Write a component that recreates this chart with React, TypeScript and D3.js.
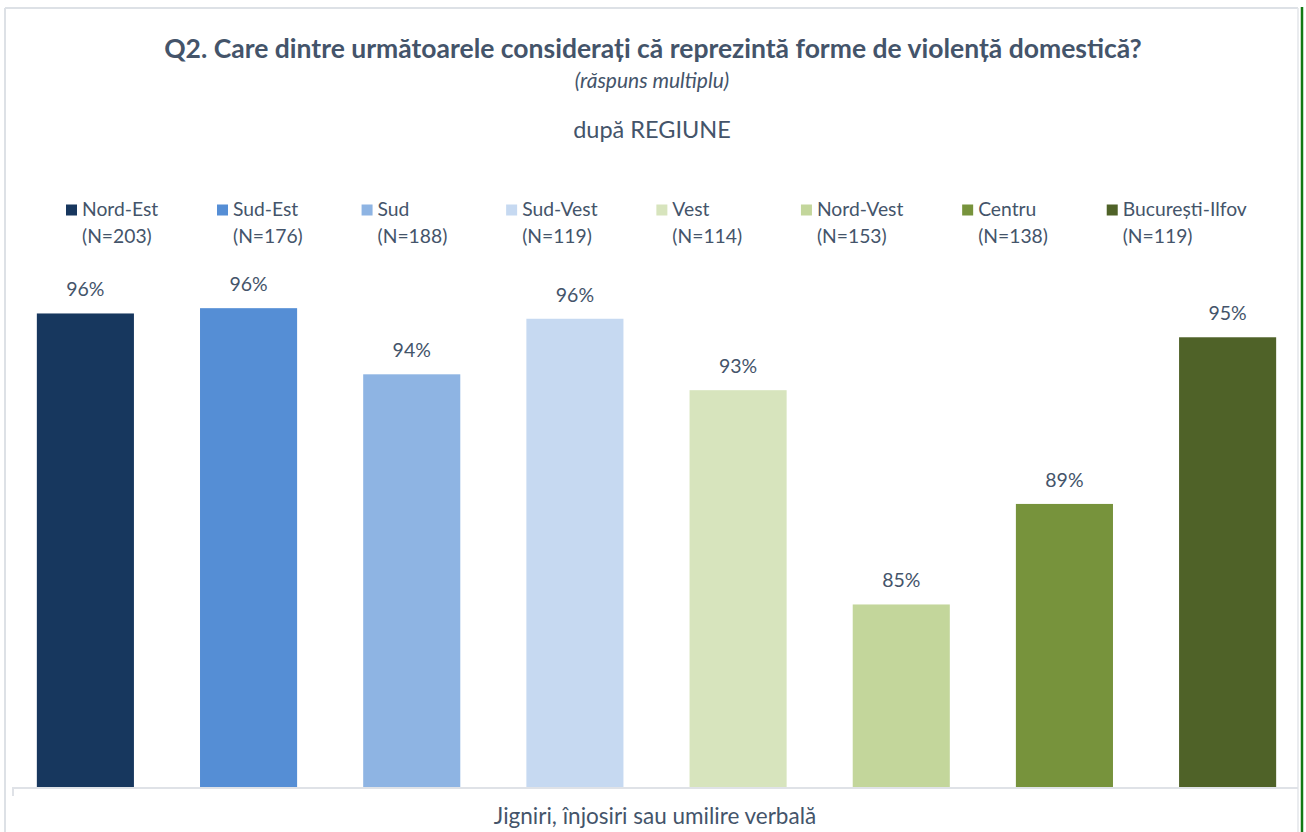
import React, { useEffect, useRef } from "react";
import * as d3 from "d3";

const regions = ["Nord-Est", "Sud-Est", "Sud", "Sud-Vest", "Vest", "Nord-Vest", "Centru", "București-Ilfov"];
const sampleSizes = ["(N=203)", "(N=176)", "(N=188)", "(N=119)", "(N=114)", "(N=153)", "(N=138)", "(N=119)"];
const values = [95.9, 96.1, 93.6, 95.7, 93.0, 84.9, 88.7, 95.0];
const colors = ["#17375E", "#558ED5", "#8EB4E3", "#C6D9F1", "#D7E4BD", "#C3D69B", "#77933C", "#4F6228"];
const categoryLabel = "Jigniri, înjosiri sau umilire verbală";
const titleText = "Q2. Care dintre următoarele considerați că reprezintă forme de violență domestică?";
const subtitleText = "(răspuns multiplu)";
const groupText = "după REGIUNE";

const W = 1306;
const H = 832;
const FONT = "Lato, 'Open Sans', sans-serif";
const TEXT = "#44546A";

export default function App() {
  const ref = useRef<SVGSVGElement>(null);

  useEffect(() => {
    document.body.style.margin = "0";
    document.body.style.overflow = "hidden";
    const svg = d3.select(ref.current);
    svg.selectAll("*").remove();

    svg.append("rect").attr("width", W).attr("height", H).attr("fill", "#fff");

    // frame
    svg.append("line").attr("x1", 5).attr("x2", 5).attr("y1", 8).attr("y2", H).attr("stroke", "#DDE1E6").attr("stroke-width", 2);
    svg.append("line").attr("x1", 5).attr("x2", 1298).attr("y1", 8).attr("y2", 8).attr("stroke", "#DDE1E6").attr("stroke-width", 2);
    svg.append("line").attr("x1", 1298).attr("x2", 1298).attr("y1", 8).attr("y2", H).attr("stroke", "#E3E6EA").attr("stroke-width", 1.5);
    svg.append("line").attr("x1", 1302).attr("x2", 1302).attr("y1", 7).attr("y2", H).attr("stroke", "#137A13").attr("stroke-width", 2.5);

    const x = d3.scaleBand<string>().domain(regions).range([14, 1299]).paddingInner(0.405).paddingOuter(0.14);
    const y = d3.scaleLinear().domain([78, 100]).range([787, 205]);

    // title
    svg.append("text").attr("x", 653).attr("y", 58).attr("text-anchor", "middle")
      .attr("font-family", FONT).attr("font-weight", 700).attr("font-size", 26.5).attr("fill", TEXT).text(titleText);
    svg.append("text").attr("x", 652).attr("y", 88).attr("text-anchor", "middle")
      .attr("font-family", FONT).attr("font-style", "italic").attr("font-size", 21).attr("fill", TEXT).text(subtitleText);
    svg.append("text").attr("x", 652).attr("y", 138).attr("text-anchor", "middle")
      .attr("font-family", FONT).attr("font-size", 23.5).attr("fill", TEXT).text(groupText);

    // legend
    const legend = svg.append("g");
    let lx = 66;
    regions.forEach((r, i) => {
      const g = legend.append("g").attr("transform", `translate(${lx},0)`);
      g.append("rect").attr("x", 0).attr("y", 204.5).attr("width", 11).attr("height", 11).attr("fill", colors[i]);
      const t1 = g.append("text").attr("x", 16).attr("y", 216).attr("font-family", FONT).attr("font-size", 19.3).attr("fill", TEXT).text(r);
      const t2 = g.append("text").attr("x", 16).attr("y", 243).attr("font-family", FONT).attr("font-size", 19.3).attr("fill", TEXT).text(sampleSizes[i]);
      const w = Math.max((t1.node() as SVGTextElement).getComputedTextLength(), (t2.node() as SVGTextElement).getComputedTextLength());
      lx += 16 + w + 58.8;
    });

    // bars
    svg.append("g").selectAll("rect").data(values).join("rect")
      .attr("x", (_d, i) => x(regions[i]) as number)
      .attr("y", (d) => y(d))
      .attr("width", x.bandwidth())
      .attr("height", (d) => y(78) - y(d))
      .attr("fill", (_d, i) => colors[i]);

    svg.append("g").selectAll("text").data(values).join("text")
      .attr("x", (_d, i) => (x(regions[i]) as number) + x.bandwidth() / 2)
      .attr("y", (d) => y(d) - 17)
      .attr("text-anchor", "middle")
      .attr("font-family", FONT).attr("font-size", 19.5).attr("fill", TEXT)
      .text((d) => `${Math.round(d)}%`);

    // axis
    svg.append("line").attr("x1", 12).attr("x2", 1298).attr("y1", 788).attr("y2", 788).attr("stroke", "#DFE2E7").attr("stroke-width", 2);
    svg.append("line").attr("x1", 13).attr("x2", 13).attr("y1", 788).attr("y2", 796).attr("stroke", "#DFE2E7").attr("stroke-width", 2);

    svg.append("text").attr("x", 655).attr("y", 824).attr("text-anchor", "middle")
      .attr("font-family", FONT).attr("font-size", 22.5).attr("fill", TEXT).text(categoryLabel);
  }, []);

  return <svg ref={ref} width={W} height={H} style={{ display: "block" }} />;
}
